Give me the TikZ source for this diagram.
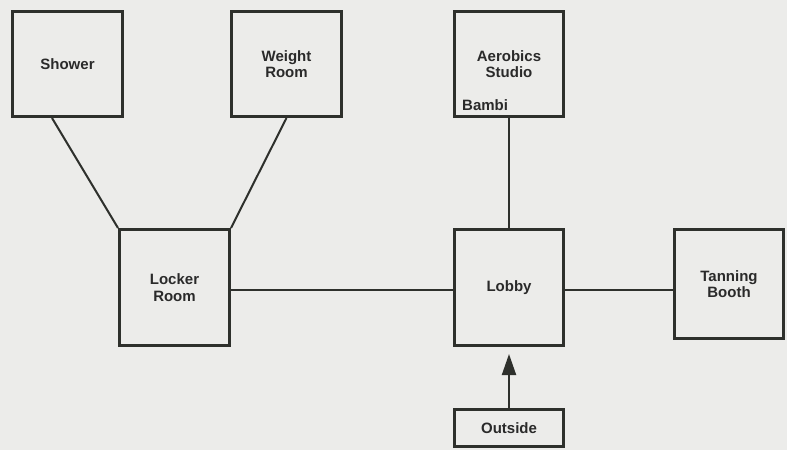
\documentclass[tikz,border=0pt]{standalone}
\usepackage{fontspec}
\setmainfont{Liberation Sans}
\usetikzlibrary{arrows.meta}
\definecolor{bgc}{HTML}{ECECEA}
\definecolor{ink}{HTML}{2E302C}
\definecolor{txt}{HTML}{2A2A2A}
\begin{document}
\begin{tikzpicture}[x=1pt,y=-1pt,
  room/.style={draw=ink, line width=3pt, inner sep=0pt, align=center,
    font=\fontsize{15}{16.5}\selectfont\bfseries, text=txt},
  link/.style={draw=ink, line width=2pt},
  lbl/.style={inner sep=0pt, font=\fontsize{15}{16.5}\selectfont\bfseries, text=txt}]
\fill[bgc] (0,0) rectangle (787,450);
\useasboundingbox (0,0) rectangle (787,450);
\node[room, minimum width=110pt, minimum height=105pt] (shower) at (67.5,64) {Shower};
\node[room, minimum width=110pt, minimum height=105pt] (weight) at (286.5,64) {Weight\\Room};
\node[room, minimum width=109pt, minimum height=105pt] (aerobics) at (509,64) {Aerobics\\Studio};
\node[lbl, anchor=west] (bambi) at (462,105) {Bambi};
\node[room, minimum width=110pt, minimum height=116pt] (locker) at (174.5,287.5) {Locker\\Room};
\node[room, minimum width=109pt, minimum height=116pt] (lobby) at (509,287.5) {Lobby};
\node[room, minimum width=109pt, minimum height=109pt] (tanning) at (729,284) {Tanning\\Booth};
\node[room, minimum width=109pt, minimum height=37pt] (outside) at (509,428) {Outside};
\draw[link] ([xshift=-15.5pt]shower.south) -- (locker.north west);
\draw[link] (weight.south) -- (locker.north east);
\draw[link] (aerobics.south) -- (lobby.north);
\draw[link] ([yshift=-2.5pt]locker.east) -- ([yshift=-2.5pt]lobby.west);
\draw[link] ([yshift=-2.5pt]lobby.east) -- ([yshift=-2.5pt]lobby.east -| tanning.west);
\draw[link, -{Triangle[length=21pt, width=14pt]}, shorten >=7pt] (outside.north) -- (lobby.south);
\end{tikzpicture}
\end{document}
